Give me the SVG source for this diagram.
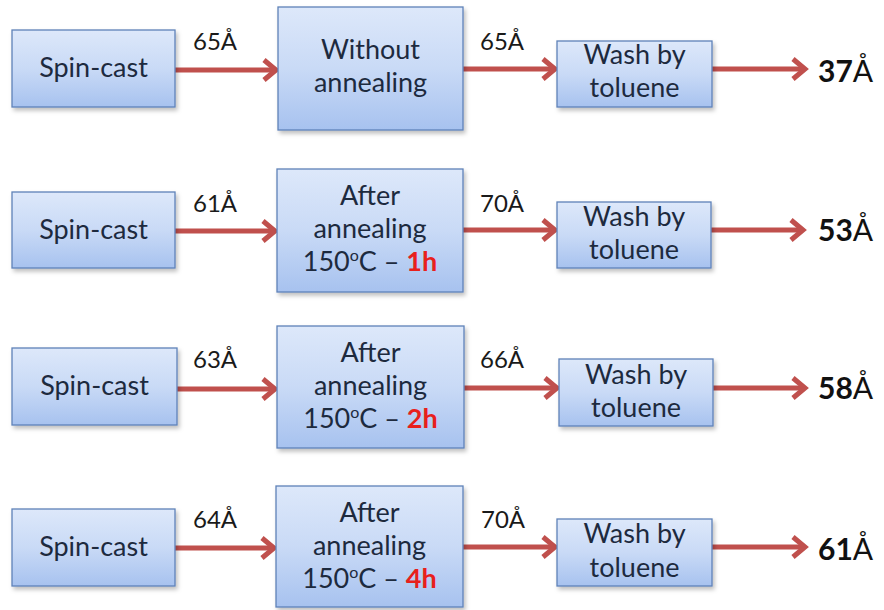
<svg xmlns="http://www.w3.org/2000/svg" width="884" height="610" viewBox="0 0 884 610">
<defs>
<linearGradient id="boxg" x1="0" y1="0" x2="0" y2="1">
<stop offset="0" stop-color="#dde8fa"/>
<stop offset="0.5" stop-color="#c9daf6"/>
<stop offset="1" stop-color="#a7c2ef"/>
</linearGradient>
<filter id="sh" x="-10%" y="-10%" width="125%" height="130%">
<feDropShadow dx="2" dy="3" stdDeviation="2" flood-color="#000" flood-opacity="0.25"/>
</filter>
<marker id="ah" markerUnits="userSpaceOnUse" markerWidth="24" markerHeight="28" refX="18" refY="12" orient="auto" overflow="visible">
<path d="M6,2 L18,12 L6,22" fill="none" stroke="#c0504d" stroke-width="5" stroke-linejoin="miter" stroke-linecap="butt"/>
</marker>
</defs>
<style>
.box{fill:url(#boxg);stroke:#5f82b8;stroke-width:1.3;filter:url(#sh)}
.bt{font-family:Lato,"Open Sans",sans-serif;font-size:27px;fill:#1d2a3e;text-anchor:middle}
.lbl{font-family:Lato,"Open Sans",sans-serif;font-size:24px;fill:#1a1a1a}
.fin{font-family:Lato,"Open Sans",sans-serif;font-size:30px;fill:#111}
.fin .b{font-weight:bold}
.red{fill:#e8201c;font-weight:bold}
.arr{stroke:#c0504d;stroke-width:5;fill:none;marker-end:url(#ah)}
</style>
<rect width="884" height="610" fill="#ffffff"/>

<g id="connectors">
<line class="arr" x1="175" y1="70" x2="276" y2="70"/>
<line class="arr" x1="463" y1="69" x2="555" y2="69"/>
<line class="arr" x1="712" y1="69" x2="805" y2="69"/>
<line class="arr" x1="175" y1="231" x2="275" y2="231"/>
<line class="arr" x1="463" y1="230" x2="555" y2="230"/>
<line class="arr" x1="711" y1="230" x2="803" y2="230"/>
<line class="arr" x1="177" y1="389" x2="275" y2="389"/>
<line class="arr" x1="464" y1="388" x2="557" y2="388"/>
<line class="arr" x1="713" y1="388" x2="805" y2="388"/>
<line class="arr" x1="175" y1="548" x2="274" y2="548"/>
<line class="arr" x1="463" y1="547" x2="555" y2="547"/>
<line class="arr" x1="712" y1="547" x2="805" y2="547"/>
</g>

<g id="labels">
<text class="lbl" x="193" y="50">65Å</text>
<text class="lbl" x="480" y="50">65Å</text>
<text class="lbl" x="193" y="212">61Å</text>
<text class="lbl" x="480" y="212">70Å</text>
<text class="lbl" x="193" y="368">63Å</text>
<text class="lbl" x="480" y="368">66Å</text>
<text class="lbl" x="193" y="528">64Å</text>
<text class="lbl" x="481" y="528">70Å</text>
</g>

<g id="spin1"><rect class="box" x="12" y="30" width="163" height="77"/><text class="bt" x="93.5" y="77">Spin-cast</text></g>
<g id="anneal1"><rect class="box" x="278" y="7" width="185" height="123"/><text class="bt" x="370.5" y="59">Without</text><text class="bt" x="370.5" y="92">annealing</text></g>
<g id="wash1"><rect class="box" x="557" y="41" width="155" height="66"/><text class="bt" x="634.5" y="64">Wash by</text><text class="bt" x="634.5" y="97">toluene</text></g>
<g id="result1"><text class="fin" x="818" y="82"><tspan class="b">37</tspan>Å</text></g>

<g id="spin2"><rect class="box" x="12" y="192" width="163" height="76"/><text class="bt" x="93.5" y="239">Spin-cast</text></g>
<g id="anneal2"><rect class="box" x="277" y="169" width="186" height="123"/><text class="bt" x="370" y="205">After</text><text class="bt" x="370" y="238">annealing</text><text class="bt" x="370" y="271">150<tspan font-size="16" dy="-10">o</tspan><tspan dy="10">C – </tspan><tspan class="red">1h</tspan></text></g>
<g id="wash2"><rect class="box" x="557" y="202" width="154" height="66"/><text class="bt" x="634" y="226">Wash by</text><text class="bt" x="634" y="259">toluene</text></g>
<g id="result2"><text class="fin" x="818" y="241"><tspan class="b">53</tspan>Å</text></g>

<g id="spin3"><rect class="box" x="12" y="348" width="165" height="77"/><text class="bt" x="94.5" y="395">Spin-cast</text></g>
<g id="anneal3"><rect class="box" x="277" y="326" width="187" height="122"/><text class="bt" x="370.5" y="362">After</text><text class="bt" x="370.5" y="395">annealing</text><text class="bt" x="370.5" y="428">150<tspan font-size="16" dy="-10">o</tspan><tspan dy="10">C – </tspan><tspan class="red">2h</tspan></text></g>
<g id="wash3"><rect class="box" x="559" y="359" width="154" height="67"/><text class="bt" x="636" y="384">Wash by</text><text class="bt" x="636" y="417">toluene</text></g>
<g id="result3"><text class="fin" x="818" y="399"><tspan class="b">58</tspan>Å</text></g>

<g id="spin4"><rect class="box" x="12" y="509" width="163" height="77"/><text class="bt" x="93.5" y="556">Spin-cast</text></g>
<g id="anneal4"><rect class="box" x="276" y="486" width="187" height="121"/><text class="bt" x="369.5" y="522">After</text><text class="bt" x="369.5" y="555">annealing</text><text class="bt" x="369.5" y="588">150<tspan font-size="16" dy="-10">o</tspan><tspan dy="10">C – </tspan><tspan class="red">4h</tspan></text></g>
<g id="wash4"><rect class="box" x="557" y="519" width="155" height="67"/><text class="bt" x="634.5" y="543">Wash by</text><text class="bt" x="634.5" y="577">toluene</text></g>
<g id="result4"><text class="fin" x="818" y="560"><tspan class="b">61</tspan>Å</text></g>
</svg>
